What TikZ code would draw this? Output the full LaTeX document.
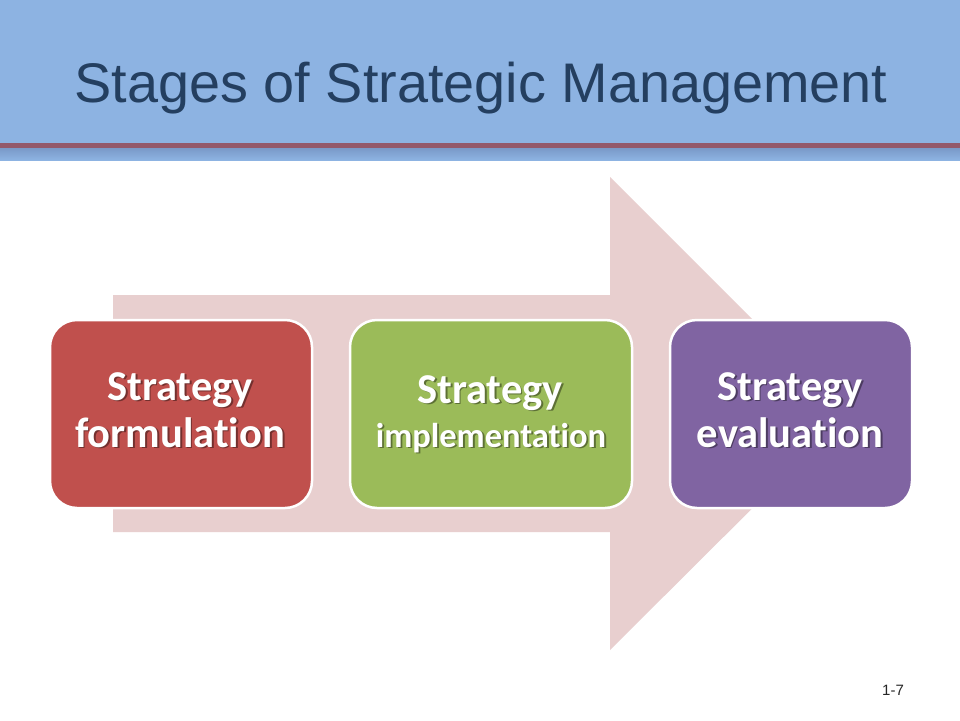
\documentclass[tikz,border=0pt]{standalone}
\usepackage{fontspec}
\setmainfont{Liberation Sans}
\newfontfamily\boxfont[Ligatures=NoCommon]{Carlito}
\usetikzlibrary{calc}
\definecolor{hdrblue}{HTML}{8DB3E2}
\definecolor{hdrdark}{HTML}{7897C6}
\definecolor{hdrline}{HTML}{93596B}
\definecolor{titleblue}{HTML}{243F60}
\definecolor{arrowpink}{HTML}{E8CFCF}
\definecolor{boxred}{HTML}{C0504D}
\definecolor{boxgreen}{HTML}{9BBB59}
\definecolor{boxpurple}{HTML}{8064A2}
\tikzset{
  stagebox/.style={draw=white, line width=2.5pt, rounded corners=27pt, inner sep=0pt},
  lbl/.style={text=white, font=\boxfont\bfseries\fontsize{42.5}{47}\selectfont, inner sep=0pt, anchor=base},
  lblsmall/.style={lbl, font=\boxfont\bfseries\fontsize{34.5}{40}\selectfont},
  shd/.style={text=black, opacity=0.4},
}
\newcommand{\shadowlabel}[4]{%
  \node[#1, shd] at ($(#3)+(1.8,1.8)$) {#4};
  \node[#1] (#2) at (#3) {#4};
}
\begin{document}
\begin{tikzpicture}[x=1pt,y=-1pt]
\useasboundingbox (0,0) rectangle (960,720);
\fill[white] (0,0) rectangle (960,720);
% header
\fill[hdrblue] (0,0) rectangle (960,143);
\shade[top color=hdrdark, bottom color=hdrblue] (0,147) rectangle (960,160);
\fill[hdrline] (0,143) rectangle (960,147.5);
\node[text=titleblue, font=\fontsize{55.8}{60}\selectfont, anchor=base, inner sep=0pt] (title) at (481,102) {Stages of Strategic Management};
% big arrow
\fill[arrowpink] (113,295) -- (610,295) -- (610,177) -- (847,414) -- (610,650) -- (610,532) -- (113,532) -- cycle;
% boxes
\node[stagebox, fill=boxred, minimum width=262pt, minimum height=188pt] (form) at (181,414) {};
\node[stagebox, fill=boxgreen, minimum width=282pt, minimum height=188pt] (impl) at (491,414) {};
\node[stagebox, fill=boxpurple, minimum width=242pt, minimum height=188pt] (eval) at (791,414) {};
% labels
\shadowlabel{lbl}{f1}{180,400}{Strategy}
\shadowlabel{lbl}{f2}{180,447}{formulation}
\shadowlabel{lbl}{i1}{490,403}{Strategy}
\shadowlabel{lblsmall}{i2}{491,447}{implementation}
\shadowlabel{lbl}{e1}{790,400}{Strategy}
\shadowlabel{lbl}{e2}{790,447}{evaluation}
% page number
\node[text=black!85, font=\fontsize{15}{16}\selectfont, anchor=base, inner sep=0pt] (pnum) at (893,695) {1-7};
\end{tikzpicture}
\end{document}
